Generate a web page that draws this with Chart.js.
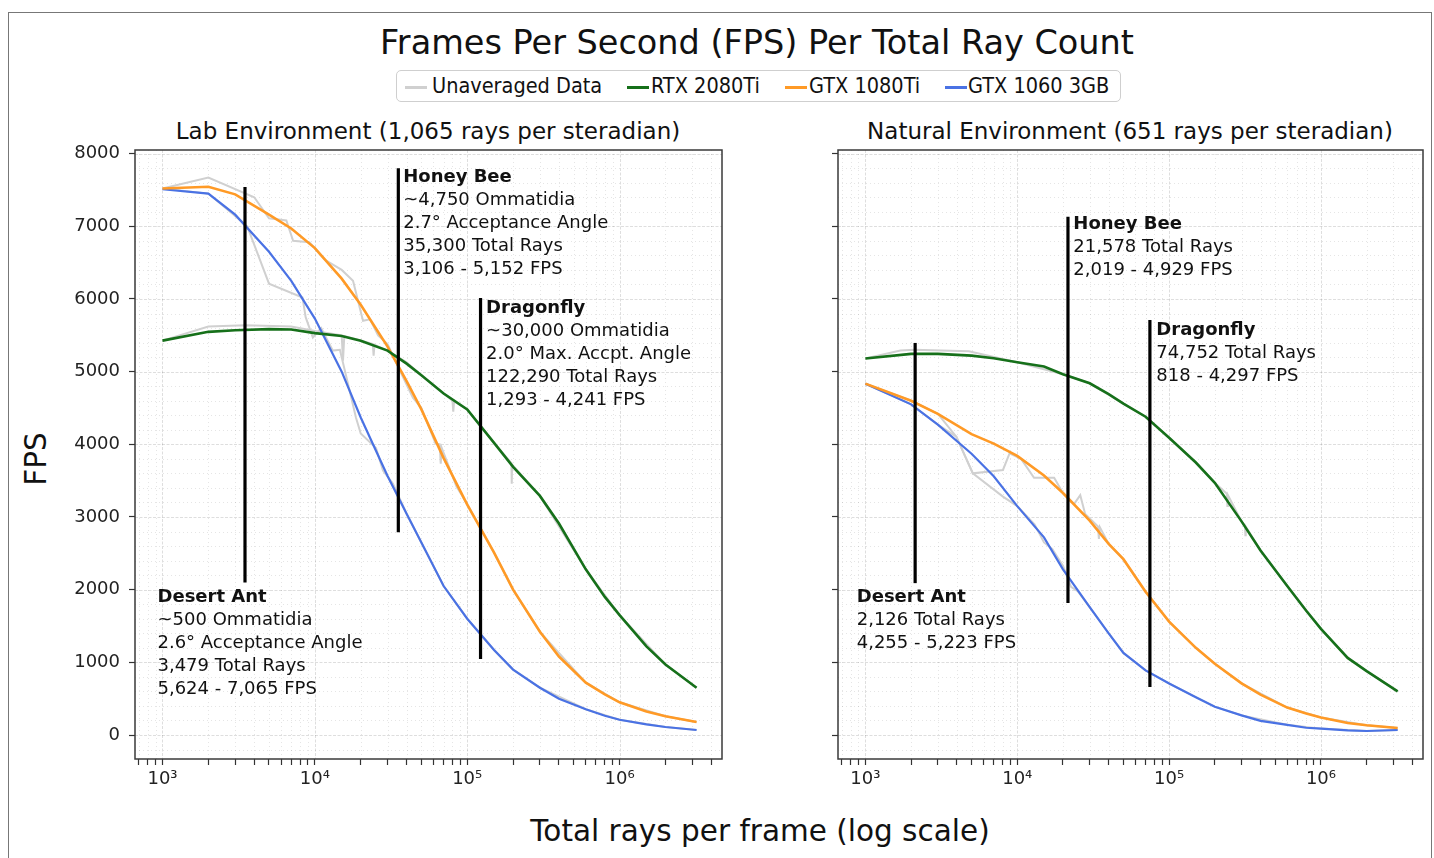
<!DOCTYPE html>
<html>
<head>
<meta charset="utf-8">
<title>Frames Per Second (FPS) Per Total Ray Count</title>
<script src="https://cdn.jsdelivr.net/npm/chart.js@4.4.1/dist/chart.umd.min.js"></script>
<style>
  body { margin: 0; background: #fff; font-family: "DejaVu Sans", sans-serif; color: #111; }
  #fig { position: relative; width: 1434px; height: 858px; overflow: hidden; background: #fff; }
  #frame { position: absolute; left: 8px; top: 12px; width: 1424px; height: 870px; border: 1px solid #777; box-sizing: border-box; }
  .txt { position: absolute; white-space: nowrap; line-height: 1; }
  #title { left: 0; width: 1514px; text-align: center; top: 26px; font-size: 33.5px; }
  .sub { font-size: 23px; text-align: center; width: 700px; top: 120px; }
  #xlab { left: 0; width: 1520px; text-align: center; top: 817px; font-size: 29.5px; }
  #ylab { left: 37px; top: 459px; font-size: 29.5px; transform: translate(-50%, -50%) rotate(-90deg); }
  #legend { position: absolute; left: 396px; top: 70px; width: 725px; height: 32px; border: 1px solid #cfcfcf; border-radius: 5px; box-sizing: border-box; }
  #legend .h { position: absolute; top: 15px; width: 22px; height: 2.5px; }
  #legend .lt { position: absolute; top: 0; line-height: 30px; font-size: 21.5px; font-family: "DejaVu Sans Condensed", "DejaVu Sans", sans-serif; font-stretch: condensed; white-space: nowrap; }
  canvas { position: absolute; }
</style>
</head>
<body>
<div id="fig">
  <div id="frame"></div>
  <div class="txt" id="title">Frames Per Second (FPS) Per Total Ray Count</div>
  <div id="legend">
    <span class="h" style="left:8px;background:#d0d0d0"></span><span class="lt" style="left:35px">Unaveraged Data</span>
    <span class="h" style="left:230px;background:#16701a"></span><span class="lt" style="left:254px">RTX 2080Ti</span>
    <span class="h" style="left:388px;background:#ff9a26"></span><span class="lt" style="left:412px">GTX 1080Ti</span>
    <span class="h" style="left:548px;background:#4a72e4"></span><span class="lt" style="left:571px">GTX 1060 3GB</span>
  </div>
  <div class="txt sub" style="left:78px">Lab Environment (1,065 rays per steradian)</div>
  <div class="txt sub" style="left:780px">Natural Environment (651 rays per steradian)</div>
  <div class="txt" id="ylab">FPS</div>
  <div class="txt" id="xlab">Total rays per frame (log scale)</div>
  <canvas id="chartLab" width="760" height="680" style="left:0px;top:130px"></canvas>
  <canvas id="chartNat" width="734" height="680" style="left:700px;top:130px"></canvas>
</div>

<script>
// ---------------- datos ----------------
// eje x comun de las curvas promediadas (rayos totales por frame)
const rayGrid = [1000, 2000, 3000, 5000, 7000, 10000, 15000, 20000, 30000, 40000, 50000, 70000,
                 100000, 150000, 200000, 300000, 400000, 600000, 800000, 1000000, 1500000, 2000000, 3200000];

// Lab Environment
const labRtx  = [5427, 5548, 5570, 5585, 5580, 5530, 5490, 5425, 5290, 5110, 4950, 4700,
                 4480, 4020, 3690, 3290, 2910, 2280, 1900, 1650, 1220, 970, 650];
const lab1080 = [7520, 7545, 7440, 7160, 6970, 6700, 6280, 5920, 5345, 4870, 4480, 3810,
                 3170, 2510, 2000, 1420, 1080, 720, 560, 450, 325, 258, 180];
const lab1060 = [7510, 7450, 7160, 6650, 6250, 5730, 5000, 4370, 3565, 3045, 2650, 2050,
                 1600, 1170, 900, 650, 500, 355, 265, 210, 147, 110, 69];

// Natural Environment
const natRtx  = [5180, 5245, 5245, 5220, 5185, 5130, 5070, 4965, 4840, 4690, 4560, 4380,
                 4090, 3750, 3470, 2940, 2540, 2050, 1710, 1460, 1061, 880, 600];
const nat1080 = [4835, 4600, 4420, 4140, 4010, 3840, 3570, 3330, 2950, 2630, 2420, 1970,
                 1560, 1200, 980, 710, 555, 378, 295, 240, 165, 135, 96];
const nat1060 = [4835, 4550, 4270, 3870, 3560, 3150, 2720, 2280, 1760, 1400, 1130, 890,
                 710, 520, 390, 270, 195, 140, 100, 88, 65, 55, 69];

// datos sin promediar (gris)
const labRawRtxX = [1000, 2000, 3500, 7000, 10000, 15000, 15300, 15600, 20000, 24000, 24300, 24600, 30000, 40000,
                    50000, 70000, 80000, 81000, 82000, 100000, 150000, 195000, 196000, 197000, 300000, 600000, 1000000, 2000000, 3200000];
const labRawRtxY = [5427, 5620, 5640, 5620, 5560, 5500, 5150, 5490, 5430, 5380, 5220, 5370, 5290, 5130,
                    4950, 4700, 4600, 4450, 4590, 4480, 4020, 3740, 3457, 3720, 3290, 2280, 1650, 970, 650];
const labRaw1080X = [1000, 2000, 4000, 5000, 6500, 7200, 9200, 11800, 15000, 17800, 20700, 23000, 26000, 30000, 36000,
                     44000, 50000, 62000, 66000, 67000, 68000, 85000, 100000, 150000, 200000, 300000, 600000, 1000000, 2000000, 3200000];
const labRaw1080Y = [7520, 7670, 7400, 7110, 7080, 6800, 6780, 6530, 6400, 6250, 5700, 5720, 5500, 5380, 5020,
                     4640, 4500, 4010, 4000, 3733, 3950, 3420, 3180, 2510, 2000, 1420, 720, 450, 258, 180];
const labRaw1060X = [1000, 2000, 3600, 5000, 8300, 8700, 9700, 11000, 13100, 14600, 16900, 18600, 20000, 25200,
                     28000, 32500, 40000, 50000, 70000, 100000, 150000, 200000, 300000, 600000, 1000000, 2000000, 3200000];
const labRaw1060Y = [7520, 7450, 7000, 6210, 6020, 5750, 5470, 5600, 5290, 5300, 4740, 4370, 4150, 3950,
                     3640, 3460, 3045, 2650, 2050, 1600, 1170, 900, 650, 355, 210, 110, 69];

const natRawRtxX = [1000, 1700, 2100, 4800, 10000, 20000, 30000, 50000, 70000, 100000, 150000, 200000, 240000, 242000,
                    244000, 300000, 316000, 318000, 320000, 400000, 600000, 1000000, 1500000, 2000000, 3200000];
const natRawRtxY = [5180, 5290, 5300, 5280, 5130, 4965, 4840, 4560, 4380, 4090, 3750, 3470, 3320, 3150,
                    3300, 2940, 2880, 2750, 2870, 2540, 2050, 1460, 1061, 880, 600];
const natRaw1080X = [1000, 2000, 3000, 3970, 5100, 8050, 8900, 10600, 12900, 17500, 20000, 23700, 26000, 28000, 34000,
                     34500, 35000, 40000, 50000, 70000, 100000, 150000, 200000, 300000, 600000, 1000000, 2000000, 3200000];
const natRaw1080Y = [4835, 4600, 4420, 4105, 3601, 3647, 3877, 3800, 3540, 3540, 3330, 3180, 3300, 3040, 2870,
                     2700, 2860, 2630, 2420, 1970, 1560, 1200, 980, 710, 378, 240, 135, 96];
const natRaw1060X = [1000, 2000, 3000, 3970, 5100, 8050, 10000, 13000, 15000, 17000, 20000, 22600, 25000, 30000,
                     40000, 50000, 70000, 100000, 150000, 200000, 300000, 600000, 1000000, 2000000, 3200000];
const natRaw1060Y = [4835, 4550, 4270, 4105, 3601, 3280, 3150, 2900, 2650, 2560, 2330, 2040, 1980, 1760,
                     1400, 1130, 890, 710, 520, 390, 270, 140, 88, 55, 69];

// ticks
const xMajorTicks = [1000, 10000, 100000, 1000000];
const xTickLabels = ['10\u00b3', '10\u2074', '10\u2075', '10\u2076'];
const yTicks = [0, 1000, 2000, 3000, 4000, 5000, 6000, 7000, 8000];

// lineas verticales de cada animal
const labMarkX  = [3479, 35300, 122290];
const labMarkLo = [2100, 2790, 1045];
const labMarkHi = [7540, 7800, 6015];
const natMarkX  = [2126, 21578, 74752];
const natMarkLo = [2090, 1815, 660];
const natMarkHi = [5395, 7130, 5710];

// textos de cada animal (posicion de la primera linea en datos)
const labNoteX = [927, 38000, 133000];
const labNoteY = [1830, 7610, 5807];
const labNoteText = [
  ['Desert Ant', '~500 Ommatidia', '2.6\u00b0 Acceptance Angle', '3,479 Total Rays', '5,624 - 7,065 FPS'],
  ['Honey Bee', '~4,750 Ommatidia', '2.7\u00b0 Acceptance Angle', '35,300 Total Rays', '3,106 - 5,152 FPS'],
  ['Dragonfly', '~30,000 Ommatidia', '2.0\u00b0 Max. Accpt. Angle', '122,290 Total Rays', '1,293 - 4,241 FPS']
];
const natNoteX = [877, 23400, 82400];
const natNoteY = [1830, 6963, 5504];
const natNoteText = [
  ['Desert Ant', '2,126 Total Rays', '4,255 - 5,223 FPS'],
  ['Honey Bee', '21,578 Total Rays', '2,019 - 4,929 FPS'],
  ['Dragonfly', '74,752 Total Rays', '818 - 4,297 FPS']
];

// ---------------- estilo ----------------
const COLOR_RAW = '#d0d0d0';
const COLOR_RTX = '#16701a';
const COLOR_1080 = '#ff9a26';
const COLOR_1060 = '#4a72e4';
const FONT = '"DejaVu Sans", sans-serif';

// ticks del eje x: decadas y sus subdivisiones
const xTickVals = [];
for (let e = 2; e <= 6; e++) {
  for (let k = 1; k <= 9; k++) {
    const v = k * Math.pow(10, e);
    if (v >= 700 && v <= 4e6) xTickVals.push(v);
  }
}

function pts(xs, ys){
  return xs.map((x, i) => ({x: x, y: ys[i]}));
}

function esMayor(v){
  return xMajorTicks.indexOf(v) !== -1;
}

// rejilla, marco y textos
function generarDecoracion(noteX, noteY, noteText){
  return {
    id: 'decoracion',
    beforeDatasetsDraw(chart){
      const {ctx, chartArea: a} = chart;
      const xs = chart.scales.x, ys = chart.scales.y;
      ctx.save();
      ctx.beginPath();
      ctx.rect(a.left, a.top, a.right - a.left, a.bottom - a.top);
      ctx.clip();
      ctx.lineWidth = 1;
      // menores punteadas
      ctx.strokeStyle = 'rgba(0,0,0,0.10)';
      ctx.setLineDash([1, 3]);
      ctx.beginPath();
      xTickVals.forEach(v => {
        if (esMayor(v)) return;
        const px = Math.round(xs.getPixelForValue(v)) + 0.5;
        ctx.moveTo(px, a.top); ctx.lineTo(px, a.bottom);
      });
      for (let v = -200; v <= 8000; v += 200) {
        if (v % 1000 === 0) continue;
        const py = Math.round(ys.getPixelForValue(v)) + 0.5;
        ctx.moveTo(a.left, py); ctx.lineTo(a.right, py);
      }
      ctx.stroke();
      // mayores
      ctx.strokeStyle = 'rgba(0,0,0,0.13)';
      ctx.setLineDash([3, 1.5]);
      ctx.beginPath();
      xMajorTicks.forEach(v => {
        const px = Math.round(xs.getPixelForValue(v)) + 0.5;
        ctx.moveTo(px, a.top); ctx.lineTo(px, a.bottom);
      });
      yTicks.forEach(v => {
        const py = Math.round(ys.getPixelForValue(v)) + 0.5;
        ctx.moveTo(a.left, py); ctx.lineTo(a.right, py);
      });
      ctx.stroke();
      ctx.restore();
    },
    afterDatasetsDraw(chart){
      const {ctx, chartArea: a} = chart;
      const xs = chart.scales.x, ys = chart.scales.y;
      ctx.save();
      ctx.fillStyle = '#111';
      ctx.textBaseline = 'alphabetic';
      ctx.textAlign = 'left';
      for (let i = 0; i < noteX.length; i++) {
        const px = xs.getPixelForValue(noteX[i]);
        const py = ys.getPixelForValue(noteY[i]);
        for (let j = 0; j < noteText[i].length; j++) {
          ctx.font = (j === 0 ? 'bold ' : '') + '18px ' + FONT;
          ctx.fillText(noteText[i][j], px, py + j * 23);
        }
      }
      ctx.strokeStyle = '#3a3a3a';
      ctx.lineWidth = 1.5;
      ctx.strokeRect(a.left, a.top, a.right - a.left, a.bottom - a.top);
      ctx.restore();
    }
  };
}

function serie(data, color, width, order){
  return {
    data: data,
    borderColor: color,
    backgroundColor: color,
    borderWidth: width,
    pointRadius: 0,
    pointHoverRadius: 0,
    fill: false,
    tension: 0,
    order: order
  };
}

function generarGrafica(idCanvas, rtx, g1080, g1060, raws, markX, markLo, markHi, notes, yWidth, padRight, conEtiquetas){
  const datasets = [];
  raws.forEach(r => datasets.push(serie(pts(r[0], r[1]), COLOR_RAW, 2, 5)));
  datasets.push(serie(pts(rayGrid, rtx), COLOR_RTX, 2.6, 3));
  datasets.push(serie(pts(rayGrid, g1080), COLOR_1080, 2.6, 3));
  datasets.push(serie(pts(rayGrid, g1060), COLOR_1060, 2.2, 3));
  for (let i = 0; i < markX.length; i++) {
    const d = serie([{x: markX[i], y: markLo[i]}, {x: markX[i], y: markHi[i]}], '#000', 3.2, 1);
    d.borderCapStyle = 'butt';
    datasets.push(d);
  }

  const config = {
    type: 'line',
    data: {datasets: datasets},
    options: {
      responsive: false,
      animation: false,
      devicePixelRatio: 1,
      layout: {padding: {top: 20, right: padRight, left: 0, bottom: 0}},
      plugins: {legend: {display: false}, tooltip: {enabled: false}, title: {display: false}},
      scales: {
        x: {
          type: 'logarithmic',
          min: 660,
          max: 4.7e6,
          afterFit: s => { s.height = 51; },
          afterBuildTicks: s => { s.ticks = xTickVals.map(v => ({value: v, major: esMayor(v)})); },
          border: {display: false},
          grid: {drawOnChartArea: false, drawTicks: true, tickLength: 6, tickColor: '#333', tickWidth: 1.2},
          ticks: {
            autoSkip: false, maxRotation: 0, minRotation: 0, padding: 4,
            color: '#222', font: {family: FONT, size: 18},
            callback: v => { const k = xMajorTicks.indexOf(v); return k === -1 ? '' : xTickLabels[k]; }
          }
        },
        y: {
          type: 'linear',
          min: -330,
          max: 8050,
          afterFit: s => { s.width = yWidth; },
          afterBuildTicks: s => { s.ticks = yTicks.map(v => ({value: v})); },
          border: {display: false},
          grid: {drawOnChartArea: false, drawTicks: true, tickLength: 6, tickColor: '#333', tickWidth: 1.2},
          ticks: {
            padding: 9, color: '#222', font: {family: FONT, size: 18},
            callback: v => conEtiquetas ? String(v) : ''
          }
        }
      }
    },
    plugins: [generarDecoracion(notes[0], notes[1], notes[2])]
  };

  return new Chart(document.getElementById(idCanvas), config);
}

const graficaLab = generarGrafica('chartLab', labRtx, lab1080, lab1060,
  [[labRawRtxX, labRawRtxY], [labRaw1080X, labRaw1080Y], [labRaw1060X, labRaw1060Y]],
  labMarkX, labMarkLo, labMarkHi, [labNoteX, labNoteY, labNoteText], 135, 38, true);

const graficaNat = generarGrafica('chartNat', natRtx, nat1080, nat1060,
  [[natRawRtxX, natRawRtxY], [natRaw1080X, natRaw1080Y], [natRaw1060X, natRaw1060Y]],
  natMarkX, natMarkLo, natMarkHi, [natNoteX, natNoteY, natNoteText], 138, 11, false);
</script>
</body>
</html>
